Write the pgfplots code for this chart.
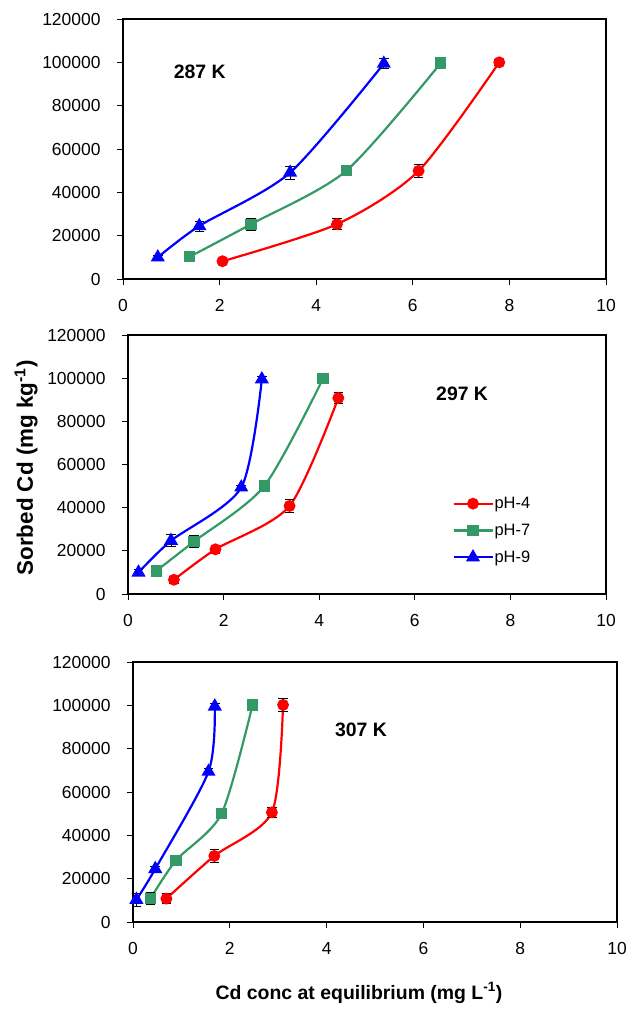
\documentclass[border=0pt]{standalone}
\usepackage{pgfplots}
\pgfplotsset{compat=1.18}
\usepackage{fontspec}
\setmainfont{Liberation Sans}
\definecolor{myred}{RGB}{255,0,0}
\definecolor{mygreen}{RGB}{51,153,102}
\definecolor{myblue}{RGB}{0,0,255}

% panel 1 (287 K)
\pgfplotstableread{
x y e
2.06 8200 1500
4.43 25300 2600
6.12 49900 2800
7.79 100000 1200
}\pAred
\pgfplotstableread{
x y e
1.38 10300 1200
2.65 25300 2800
4.62 49900 800
6.58 99700 700
}\pAgreen
\pgfplotstableread{
x y e
0.72 10000 800
1.58 24500 2300
3.46 49100 3000
5.40 99400 2400
}\pAblue
% panel 2 (297 K)
\pgfplotstableread{
x y e
0.96 6600 1700
1.83 20700 2000
3.38 40800 3100
4.40 90800 2500
}\pBred
\pgfplotstableread{
x y e
0.59 10700 2100
1.38 24300 2800
2.85 50000 1900
4.08 99800 1300
}\pBgreen
\pgfplotstableread{
x y e
0.22 10000 1300
0.90 24700 2800
2.37 49400 1000
2.80 99500 1300
}\pBblue
% panel 3 (307 K)
\pgfplotstableread{
x y e
0.69 10800 2200
1.68 30500 3100
2.87 50600 2500
3.10 100200 2800
}\pCred
\pgfplotstableread{
x y e
0.36 10800 2900
0.89 28500 1500
1.83 50000 1400
2.47 100200 1800
}\pCgreen
\pgfplotstableread{
x y e
0.07 10300 3100
0.46 24500 1000
1.56 69400 1500
1.69 99500 1300
}\pCblue

\pgfplotsset{
  panel/.style={
    scale only axis, anchor=north west,
    xmin=0, xmax=10, ymin=0, ymax=120000,
    xtick={0,2,...,10}, ytick={0,20000,...,120000},
    scaled y ticks=false,
    yticklabel style={/pgf/number format/fixed, /pgf/number format/precision=0,
      /pgf/number format/set thousands separator={}, xshift=-13bp},
    xticklabel style={yshift=-11bp},
    tick align=outside, major tick length=6bp,
    xtick pos=bottom, ytick pos=left,
    axis line style={line width=1.8bp},
    every tick/.style={black, line width=0.9bp},
    tick label style={font=\fontsize{17.5}{20}\selectfont, /pgf/number format/assume math mode=true},
    clip=false,
  },
  ser/.style={#1, line width=2.2bp, smooth, tension=0.45, mark options={solid, fill=#1, draw=#1},
    error bars/y dir=both, error bars/y explicit,
    error bars/error bar style={black, line width=0.8bp, sharp plot},
    error bars/error mark options={rotate=90, mark size=4.8bp, black, line width=0.8bp}},
  sred/.style={ser=myred, mark=*, mark size=4.8bp},
  sgreen/.style={ser=mygreen, mark=square*, mark size=4.5bp},
  sblue/.style={ser=myblue, mark=triangle*, mark size=6bp},
}

\begin{document}
\begin{tikzpicture}
\useasboundingbox (0,0) rectangle (628bp,-1009bp);

\begin{axis}[panel, at={(123bp,-19bp)}, width=483bp, height=260bp]
\addplot[sred] table[x=x, y=y, y error=e] {\pAred};
\addplot[sgreen] table[x=x, y=y, y error=e] {\pAgreen};
\addplot[sblue] table[x=x, y=y, y error=e] {\pAblue};
\node[font=\bfseries\fontsize{19.5}{22}\selectfont] at (axis cs:1.59,95500) {287 K};
\end{axis}

\begin{axis}[panel, at={(128bp,-335bp)}, width=478bp, height=259bp,
  legend style={at={(0.672,0.386)}, anchor=north west, draw=none, fill=none,
    font=\fontsize{16.5}{19}\selectfont, row sep=12bp,
    nodes={inner sep=1bp}},
  legend cell align=left,
  legend image code/.code={\draw[#1, mark repeat=2, mark phase=2] plot coordinates {(0bp,0bp) (19.5bp,0bp) (39bp,0bp)};}]
\addplot[sred] table[x=x, y=y, y error=e] {\pBred};
\addlegendentry{pH-4}
\addplot[sgreen] table[x=x, y=y, y error=e] {\pBgreen};
\addlegendentry{pH-7}
\addplot[sblue] table[x=x, y=y, y error=e] {\pBblue};
\addlegendentry{pH-9}
\node[font=\bfseries\fontsize{19.5}{22}\selectfont] at (axis cs:6.99,92700) {297 K};
\end{axis}

\begin{axis}[panel, at={(133bp,-662bp)}, width=484bp, height=260bp]
\addplot[sred] table[x=x, y=y, y error=e] {\pCred};
\addplot[sgreen] table[x=x, y=y, y error=e] {\pCgreen};
\addplot[sblue] table[x=x, y=y, y error=e] {\pCblue};
\node[font=\bfseries\fontsize{19.5}{22}\selectfont] at (axis cs:4.71,88600) {307 K};
\end{axis}

\node[rotate=90, font=\bfseries\fontsize{22.5}{26}\selectfont] at (26bp,-468bp) {Sorbed Cd (mg kg\textsuperscript{-1})};
\node[font=\bfseries\fontsize{19.5}{22}\selectfont] at (359bp,-993bp) {Cd conc at equilibrium (mg L\textsuperscript{-1})};
\end{tikzpicture}
\end{document}
